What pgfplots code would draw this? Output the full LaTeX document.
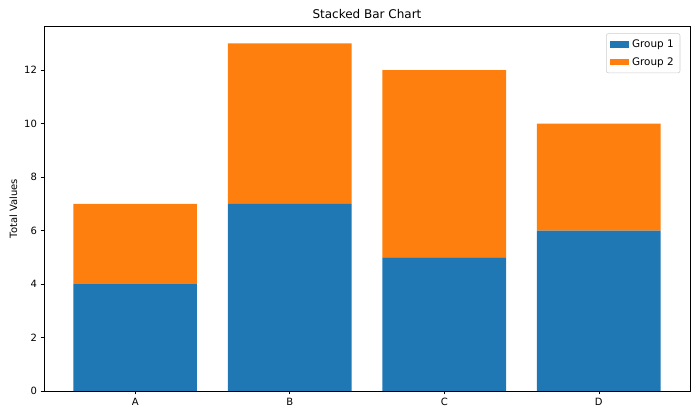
\documentclass[border=0pt]{standalone}
\usepackage{pgfplots}
\pgfplotsset{compat=1.18}
\usepackage{fontspec}
\setmainfont{DejaVu Sans}
\definecolor{tabblue}{HTML}{1F77B4}
\definecolor{taborange}{HTML}{FF7F0E}
\begin{document}
\fontsize{7.2pt}{8.6pt}\selectfont
\begin{tikzpicture}
\useasboundingbox (-31.68pt,-20.88pt) rectangle (472.32pt,281.52pt);
\begin{axis}[
  at={(0pt,0pt)}, anchor=south west,
  scale only axis, width=465.1pt, height=262.8pt,
  ybar stacked, bar width=0.8,
  xmin=-0.59, xmax=3.59, ymin=0, ymax=13.65,
  xtick=data, xticklabels={A,B,C,D},
  ytick={0,2,...,12},
  ylabel={Total Values},
  title={\fontsize{8.64pt}{10pt}\selectfont Stacked Bar Chart},
  title style={yshift=-3pt},
  tick align=outside, tick style={black, thin},
  xtick pos=bottom, ytick pos=left,
  major tick length=2.5pt,
  /pgf/number format/assume math mode=true,
  ticklabel style={font=\fontsize{7.2pt}{8.6pt}\selectfont},
  label style={font=\fontsize{7.2pt}{8.6pt}\selectfont},
  legend style={at={(0.985,0.98)}, anchor=north east, draw=black!20, rounded corners=1.5pt, font=\fontsize{7.5pt}{9pt}\selectfont, row sep=2pt, inner sep=2.5pt},
  legend cell align=left,
  legend image code/.code={\fill[#1, sharp corners] (0pt,-2.5pt) rectangle (14pt,2.5pt);},
]
\addplot[fill=tabblue, draw=none] coordinates {(0,4) (1,7) (2,5) (3,6)};
\addplot[fill=taborange, draw=none] coordinates {(0,3) (1,6) (2,7) (3,4)};
\legend{Group 1, Group 2}
\end{axis}
\end{tikzpicture}
\end{document}
